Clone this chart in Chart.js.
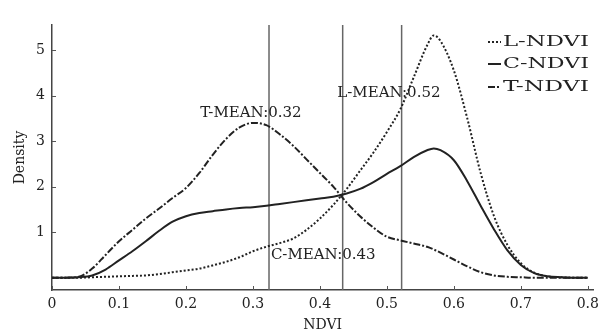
<!DOCTYPE html>
<html>
<head>
<meta charset="utf-8">
<script src="https://cdn.jsdelivr.net/npm/chart.js@4"></script>
<style>
html,body{margin:0;padding:0;background:#fff;}
#wrap{width:605px;height:331px;position:relative;}
</style>
</head>
<body>
<div id="wrap"><canvas id="c" width="605" height="331"></canvas></div>
<script>
// NDVI grid (x values)
const ndvi = [0,0.02,0.04,0.06,0.08,0.10,0.12,0.14,0.16,0.18,0.20,0.22,0.24,0.26,0.28,0.30,0.32,0.34,0.36,0.38,0.40,0.42,0.44,0.46,0.48,0.50,0.52,0.54,0.56,0.57,0.58,0.60,0.62,0.64,0.66,0.68,0.70,0.72,0.74,0.76,0.78,0.80];
// density series
const lNdvi = [0,0,0,0.01,0.02,0.03,0.04,0.05,0.08,0.12,0.16,0.2,0.27,0.35,0.45,0.58,0.68,0.76,0.86,1.05,1.3,1.6,1.95,2.35,2.75,3.2,3.7,4.4,5.1,5.32,5.2,4.55,3.5,2.3,1.35,0.72,0.32,0.11,0.03,0.01,0,0];
const cNdvi = [0,0,0.01,0.05,0.18,0.38,0.58,0.8,1.03,1.23,1.35,1.42,1.46,1.5,1.53,1.55,1.58,1.62,1.66,1.7,1.74,1.78,1.85,1.95,2.1,2.28,2.45,2.65,2.8,2.84,2.8,2.58,2.12,1.58,1.06,0.6,0.28,0.1,0.03,0.01,0,0];
const tNdvi = [0,0,0.02,0.2,0.5,0.8,1.05,1.3,1.52,1.75,1.97,2.3,2.7,3.05,3.3,3.4,3.35,3.15,2.9,2.6,2.3,2.0,1.65,1.35,1.1,0.9,0.82,0.75,0.68,0.62,0.55,0.4,0.25,0.12,0.05,0.02,0.01,0,0,0,0,0];
// mean lines
const meanNames = ['T-MEAN:0.32','C-MEAN:0.43','L-MEAN:0.52'];
const meanValues = [0.324,0.434,0.522];
// tick labels
const xTicks = [0,0.1,0.2,0.3,0.4,0.5,0.6,0.7,0.8];
const xTickLabels = ['0','0.1','0.2','0.3','0.4','0.5','0.6','0.7','0.8'];
const yTicks = [1,2,3,4,5];
const seriesNames = ['L-NDVI','C-NDVI','T-NDVI'];

const Y_MIN = -0.27, Y_MAX = 5.55;
const INK = '#222';
const FONT = '"DejaVu Serif", "Liberation Serif", serif';

function pts(arr){ return arr.map((v,i)=>({x:ndvi[i], y:v})); }

const datasets = [
  {label:seriesNames[0], data:pts(lNdvi), borderColor:INK, borderWidth:2, borderDash:[2,2], pointRadius:0, cubicInterpolationMode:'monotone', fill:false},
  {label:seriesNames[1], data:pts(cNdvi), borderColor:INK, borderWidth:2, pointRadius:0, cubicInterpolationMode:'monotone', fill:false},
  {label:seriesNames[2], data:pts(tNdvi), borderColor:INK, borderWidth:2, borderDash:[7,2,2,2], pointRadius:0, cubicInterpolationMode:'monotone', fill:false}
];
meanValues.forEach((m,i)=>{
  datasets.push({label:meanNames[i], data:[{x:m,y:Y_MIN},{x:m,y:Y_MAX}], borderColor:'#666', borderWidth:1.5, pointRadius:0, fill:false});
});

// label anchors in data units (text centre)
const meanLabelAnchor = [[0.297,3.62],[0.405,0.49],[0.503,4.05]];

const decor = {
  id:'decor',
  afterDatasetsDraw(chart){
    const ctx = chart.ctx, xs = chart.scales.x, ys = chart.scales.y;
    ctx.save();
    // inward ticks
    ctx.strokeStyle = '#555'; ctx.lineWidth = 1;
    xTicks.forEach(v=>{ const px = Math.round(xs.getPixelForValue(v))+0.5; ctx.beginPath(); ctx.moveTo(px, ys.bottom); ctx.lineTo(px, ys.bottom-4); ctx.stroke(); });
    yTicks.forEach(v=>{ const py = Math.round(ys.getPixelForValue(v))+0.5; ctx.beginPath(); ctx.moveTo(xs.left, py); ctx.lineTo(xs.left+4, py); ctx.stroke(); });
    // mean labels
    ctx.fillStyle = INK; ctx.font = '15px ' + FONT; ctx.textAlign='center'; ctx.textBaseline='middle';
    meanNames.forEach((n,i)=>{
      const a = meanLabelAnchor[i];
      ctx.fillText(n, xs.getPixelForValue(a[0]), ys.getPixelForValue(a[1]));
    });
    // legend
    const rows = [42,64,87];
    ctx.textAlign='left';
    ctx.font = '15px ' + FONT;
    for(let i=0;i<3;i++){
      const d = chart.data.datasets[i];
      ctx.beginPath();
      ctx.setLineDash(d.borderDash || []);
      ctx.lineWidth = 2; ctx.strokeStyle = INK;
      ctx.moveTo(488, rows[i]); ctx.lineTo(501, rows[i]); ctx.stroke();
      ctx.setLineDash([]);
      const w = ctx.measureText(seriesNames[i]).width;
      const sx = 86 / w;
      ctx.save();
      ctx.translate(503, rows[i]);
      ctx.scale(sx, 1);
      ctx.fillText(seriesNames[i], 0, 0);
      ctx.restore();
    }
    ctx.restore();
  }
};

new Chart(document.getElementById('c'), {
  type:'line',
  data:{datasets},
  options:{
    responsive:false, animation:false, devicePixelRatio:1,
    layout:{padding:{top:25,right:5,left:12,bottom:-3}},
    plugins:{legend:{display:false}, tooltip:{enabled:false}},
    scales:{
      x:{type:'linear', min:0, max:0.808,
        afterBuildTicks(s){ s.ticks = xTicks.map(v=>({value:v})); },
        afterFit(s){ s.height = 44; },
        grid:{display:false, drawTicks:false},
        border:{display:true, color:'#444', width:1.5},
        ticks:{padding:6, color:INK, font:{family:FONT, size:14}, callback:(v)=>{const i=xTicks.indexOf(v); return i>=0?xTickLabels[i]:'';}, maxRotation:0, autoSkip:false},
        title:{display:true, text:'NDVI', color:INK, font:{family:FONT, size:14}, padding:{top:0,bottom:0}}
      },
      y:{type:'linear', min:Y_MIN, max:Y_MAX,
        afterBuildTicks(s){ s.ticks = yTicks.map(v=>({value:v})); },
        afterFit(s){ s.width = 40; },
        grid:{display:false, drawTicks:false},
        border:{display:true, color:'#444', width:1.5},
        ticks:{padding:7, color:INK, font:{family:FONT, size:14}, autoSkip:false},
        title:{display:true, text:'Density', color:INK, font:{family:FONT, size:14}, padding:{top:0,bottom:0}}
      }
    }
  },
  plugins:[decor]
});
</script>
</body>
</html>
